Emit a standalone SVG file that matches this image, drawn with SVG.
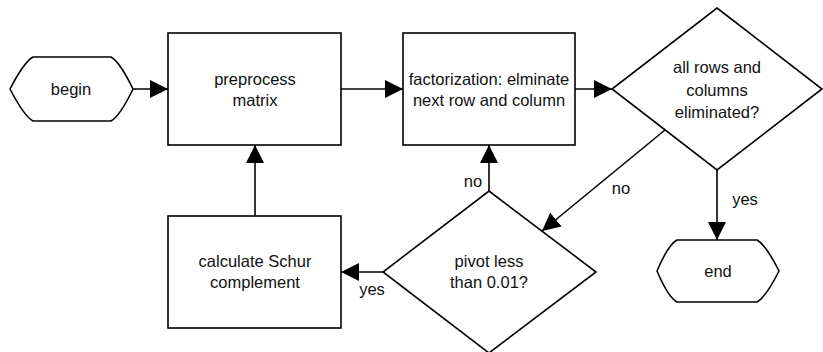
<svg xmlns="http://www.w3.org/2000/svg" width="823" height="352" viewBox="0 0 823 352">
<style>
.n{fill:#fff;stroke:#000;stroke-width:1.6}
.t{font-family:"Liberation Sans",Arial,sans-serif;font-size:16.5px;fill:#111;text-anchor:middle}
.c{fill:none;stroke:#000;stroke-width:1.6}
</style>
<defs>
<marker id="a" viewBox="0 0 18 18" refX="18" refY="9" markerWidth="18" markerHeight="18" markerUnits="userSpaceOnUse" orient="auto">
<path d="M0,0 L18,9 L0,18 Z" fill="#000"/>
</marker>
</defs>
<rect width="823" height="352" fill="#fff"/>
<g id="connectors">
<line class="c" x1="133" y1="89" x2="168" y2="89" marker-end="url(#a)"/>
<line class="c" x1="341" y1="89" x2="403" y2="89" marker-end="url(#a)"/>
<line class="c" x1="575" y1="89" x2="612" y2="89" marker-end="url(#a)"/>
<line class="c" x1="717" y1="170" x2="717" y2="240" marker-end="url(#a)"/>
<line class="c" x1="665" y1="130" x2="542" y2="231" marker-end="url(#a)"/>
<line class="c" x1="489" y1="191" x2="489" y2="145" marker-end="url(#a)"/>
<line class="c" x1="383" y1="272" x2="341" y2="272" marker-end="url(#a)"/>
<line class="c" x1="255" y1="216" x2="255" y2="145" marker-end="url(#a)"/>
<text class="t" x="745" y="205">yes</text>
<text class="t" x="621" y="194">no</text>
<text class="t" x="473" y="187">no</text>
<text class="t" x="372" y="295">yes</text>
</g>
<g id="begin">
<path class="n" d="M33,57 L111,57 Q120,62 133,89 Q120,116 111,121 L33,121 Q24,116 10,89 Q24,62 33,57 Z"/>
<text class="t" x="71" y="95">begin</text>
</g>
<g id="preprocess">
<rect class="n" x="168" y="33" width="173" height="112"/>
<text class="t" x="255" y="85">preprocess</text>
<text class="t" x="255" y="106">matrix</text>
</g>
<g id="factorization">
<rect class="n" x="403" y="33" width="172" height="112"/>
<text class="t" x="489" y="85">factorization: elminate</text>
<text class="t" x="489" y="106">next row and column</text>
</g>
<g id="allrows">
<polygon class="n" points="717,8 822,89 717,170 612,89"/>
<text class="t" x="717" y="73">all rows and</text>
<text class="t" x="717" y="96">columns</text>
<text class="t" x="717" y="118">eliminated?</text>
</g>
<g id="end">
<path class="n" d="M677,240 L757,240 Q766,245 779,271 Q766,297 757,302 L677,302 Q668,297 657,271 Q668,245 677,240 Z"/>
<text class="t" x="718" y="277">end</text>
</g>
<g id="pivot">
<polygon class="n" points="489,191 596,272 489,353 383,272"/>
<text class="t" x="489" y="267">pivot less</text>
<text class="t" x="489" y="288">than 0.01?</text>
</g>
<g id="schur">
<rect class="n" x="168" y="216" width="173" height="112"/>
<text class="t" x="255" y="267">calculate Schur</text>
<text class="t" x="255" y="288">complement</text>
</g>
</svg>
